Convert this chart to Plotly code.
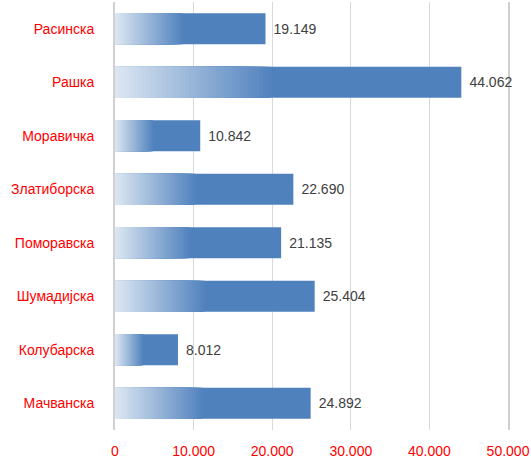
import plotly.graph_objects as go

regions = ["Расинска", "Рашка", "Моравичка", "Златиборска", "Поморавска",
           "Шумадијска", "Колубарска", "Мачванска"]
values = [19149, 44062, 10842, 22690, 21135, 25404, 8012, 24892]
tick_vals = [0, 10000, 20000, 30000, 40000, 50000]
tick_text = ["0", "10.000", "20.000", "30.000", "40.000", "50.000"]

def fmt(v):
    return "\u00a0\u200a" + f"{v:,}".replace(",", ".")

blue = (79, 129, 189)
light = (220, 230, 242)
grad_frac = 0.45
steps = 40

fig = go.Figure()
fig.add_trace(go.Bar(
    y=regions, x=values, orientation="h",
    marker=dict(color="rgb(79,129,189)", line=dict(width=0)),
    text=[fmt(v) for v in values], textposition="outside",
    textfont=dict(color="#404040", size=14, family="Liberation Sans, Arial"),
    cliponaxis=False, hoverinfo="skip", showlegend=False,
))
for k in range(1, steps + 1):
    t = k / steps
    c = tuple(round(blue[i] + (light[i] - blue[i]) * t) for i in range(3))
    fig.add_trace(go.Bar(
        y=regions, x=[v * grad_frac * (1 - t + 1 / steps) for v in values],
        orientation="h",
        marker=dict(color=f"rgb{c}", line=dict(width=0)),
        hoverinfo="skip", showlegend=False,
    ))

fig.update_layout(
    width=531, height=458,
    margin=dict(l=115, r=23, t=2, b=28),
    barmode="overlay", bargap=0.42,
    plot_bgcolor="white", paper_bgcolor="white",
    font=dict(family="Liberation Sans, Arial", size=14, color="red"),
    xaxis=dict(range=[0, 50000], tickvals=tick_vals, ticktext=tick_text,
               showgrid=True, gridcolor="#d9d9d9", gridwidth=1,
               zeroline=False, showline=False, automargin=False,
               ticks="outside", ticklen=8, tickcolor="rgba(0,0,0,0)",
               tickfont=dict(color="red", size=14)),
    yaxis=dict(autorange="reversed", showgrid=False, zeroline=False,
               showline=True, mirror=True, linecolor="#d0d0d0", linewidth=2,
               automargin=False, layer="below traces",
               ticks="outside", ticklen=16, tickcolor="rgba(0,0,0,0)",
               tickfont=dict(color="red", size=14)),
)

fig.write_html("out.html", config={"displayModeBar": False},
               post_script="document.body.style.margin='0';document.body.style.overflow='hidden';")
